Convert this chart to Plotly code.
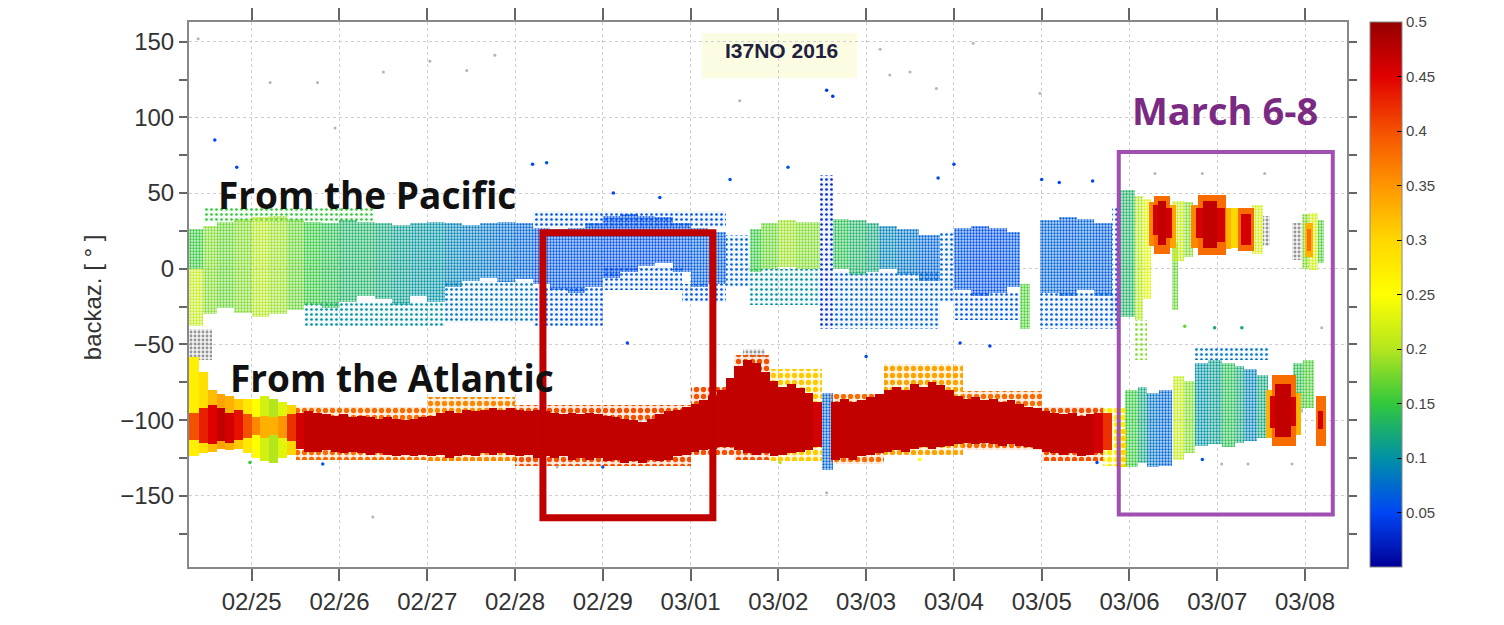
import plotly.graph_objects as go
from plotly.colors import sample_colorscale

# ---------------- data (days since 2016-02-24 00:00, back-azimuth in deg, value) ----------------
X_TICKS = [1, 2, 3, 4, 5, 6, 7, 8, 9, 10, 11, 12, 13]
X_TEXT = ["02/25", "02/26", "02/27", "02/28", "02/29", "03/01", "03/02",
          "03/03", "03/04", "03/05", "03/06", "03/07", "03/08"]
Y_TICKS = [-150, -100, -50, 0, 50, 100, 150]
Y_TEXT = ["\u2212150", "\u2212100", "\u221250", "0", "50", "100", "150"]
Y_MINOR = [-175, -125, -75, -25, 25, 75, 125]
CB_TICKS = [0.05, 0.1, 0.15, 0.2, 0.25, 0.3, 0.35, 0.4, 0.45, 0.5]
CB_TEXT = ["0.05", "0.1", "0.15", "0.2", "0.25", "0.3", "0.35", "0.4", "0.45", "0.5"]

# Atlantic band: dense core segments (t0, t1, low baz, high baz, value)
ATL_CORE = [
    (0.29, 0.4, -113, -95, 0.40), (0.4, 0.5, -115, -92, 0.43), (0.5, 0.6, -116, -90, 0.45),
    (0.6, 0.7, -114, -92, 0.47), (0.7, 0.8, -115, -95, 0.46), (0.8, 0.9, -113, -93, 0.44),
    (0.9, 1.0, -112, -96, 0.40), (1.0, 1.1, -110, -98, 0.36), (1.1, 1.2, -112, -97, 0.33),
    (1.2, 1.3, -110, -98, 0.33), (1.3, 1.4, -112, -97, 0.35), (1.4, 1.5, -114, -96, 0.42),
    (1.5, 1.6, -119, -95, 0.46), (1.6, 1.7, -121, -94, 0.47), (1.7, 1.8, -121, -95, 0.47),
    (1.8, 1.9, -120, -96, 0.47), (1.9, 2.0, -121, -97, 0.47), (2.0, 2.1, -122, -96, 0.47),
    (2.1, 2.2, -121, -98, 0.47), (2.2, 2.3, -122, -97, 0.47), (2.3, 2.4, -123, -98, 0.47),
    (2.4, 2.5, -122, -99, 0.47), (2.5, 2.6, -123, -98, 0.47), (2.6, 2.7, -124, -99, 0.47),
    (2.7, 2.8, -123, -100, 0.47), (2.8, 2.9, -124, -99, 0.47), (2.9, 3.0, -123, -98, 0.47),
    (3.0, 3.1, -124, -97, 0.47), (3.1, 3.2, -123, -95, 0.47), (3.2, 3.3, -125, -94, 0.47),
    (3.3, 3.4, -124, -95, 0.47), (3.4, 3.5, -123, -93, 0.47), (3.5, 3.6, -124, -94, 0.47),
    (3.6, 3.7, -122, -93, 0.47), (3.7, 3.8, -123, -92, 0.47), (3.8, 3.9, -122, -93, 0.47),
    (3.9, 4.0, -123, -92, 0.47), (4.0, 4.1, -124, -93, 0.47), (4.1, 4.2, -123, -94, 0.47),
    (4.2, 4.3, -125, -93, 0.47), (4.3, 4.4, -124, -94, 0.47), (4.4, 4.5, -125, -95, 0.47),
    (4.5, 4.6, -124, -96, 0.47), (4.6, 4.7, -126, -95, 0.47), (4.7, 4.8, -125, -96, 0.47),
    (4.8, 4.9, -126, -95, 0.47), (4.9, 5.0, -125, -96, 0.47), (5.0, 5.1, -127, -97, 0.47),
    (5.1, 5.2, -126, -98, 0.47), (5.2, 5.3, -128, -99, 0.47), (5.3, 5.4, -127, -100, 0.47),
    (5.4, 5.5, -128, -101, 0.47), (5.5, 5.6, -126, -99, 0.47), (5.6, 5.7, -127, -96, 0.47),
    (5.7, 5.8, -126, -94, 0.47), (5.8, 5.9, -124, -93, 0.47), (5.9, 6.0, -123, -91, 0.47),
    (6.0, 6.1, -121, -89, 0.47), (6.1, 6.2, -120, -87, 0.47), (6.2, 6.3, -119, -84, 0.47),
    (6.3, 6.4, -118, -80, 0.47), (6.4, 6.5, -118, -72, 0.47), (6.5, 6.6, -120, -64, 0.47),
    (6.6, 6.7, -122, -60, 0.47), (6.7, 6.8, -123, -62, 0.47), (6.8, 6.9, -122, -68, 0.47),
    (6.9, 7.0, -124, -74, 0.47), (7.0, 7.1, -123, -78, 0.47), (7.1, 7.2, -122, -76, 0.47),
    (7.2, 7.3, -121, -79, 0.47), (7.3, 7.4, -120, -82, 0.47), (7.4, 7.5, -118, -88, 0.46),
    (7.6, 7.7, -126, -88, 0.47), (7.7, 7.8, -125, -86, 0.47), (7.8, 7.9, -126, -88, 0.47),
    (7.9, 8.0, -124, -87, 0.47), (8.0, 8.1, -123, -85, 0.47), (8.1, 8.2, -122, -83, 0.47),
    (8.2, 8.3, -121, -80, 0.47), (8.3, 8.4, -120, -78, 0.47), (8.4, 8.5, -121, -80, 0.47),
    (8.5, 8.6, -119, -76, 0.47), (8.6, 8.7, -118, -78, 0.47), (8.7, 8.8, -119, -75, 0.47),
    (8.8, 8.9, -118, -77, 0.47), (8.9, 9.0, -117, -80, 0.47), (9.0, 9.1, -116, -84, 0.47),
    (9.1, 9.2, -115, -86, 0.47), (9.2, 9.3, -116, -85, 0.47), (9.3, 9.4, -115, -87, 0.47),
    (9.4, 9.5, -116, -86, 0.47), (9.5, 9.6, -117, -88, 0.47), (9.6, 9.7, -116, -87, 0.47),
    (9.7, 9.8, -117, -89, 0.47), (9.8, 9.9, -118, -91, 0.47), (9.9, 10.0, -119, -92, 0.47),
    (10.0, 10.1, -121, -94, 0.47), (10.1, 10.2, -122, -95, 0.47), (10.2, 10.3, -123, -96, 0.47),
    (10.3, 10.4, -122, -95, 0.47), (10.4, 10.5, -124, -97, 0.47), (10.5, 10.6, -123, -96, 0.47),
    (10.6, 10.7, -122, -95, 0.46), (10.7, 10.8, -120, -95, 0.42),
]

# Atlantic band, 24-26 Feb: mixed yellow / orange detections around the core
ATL_WEST = [
    (0.29, 0.4, -124, -58, 0.27), (0.4, 0.5, -122, -68, 0.29), (0.5, 0.6, -121, -80, 0.32),
    (0.6, 0.7, -119, -83, 0.34), (0.7, 0.8, -120, -84, 0.33), (0.8, 0.9, -119, -86, 0.31),
    (0.9, 1.0, -122, -86, 0.28), (1.0, 1.1, -125, -86, 0.25), (1.1, 1.2, -127, -84, 0.22),
    (1.2, 1.3, -128, -86, 0.20), (1.3, 1.4, -125, -88, 0.23), (1.4, 1.5, -123, -90, 0.30),
]

# Atlantic band: scattered lighter detections around the core
ATL_FRINGE = [
    (1.5, 3.0, -126, -91, 0.38), (3.0, 4.0, -127, -85, 0.36), (4.0, 6.0, -130, -90, 0.40),
    (6.0, 6.5, -123, -78, 0.40), (6.5, 6.9, -126, -57, 0.40), (6.9, 7.5, -127, -66, 0.31),
    (7.6, 8.2, -129, -83, 0.38), (8.2, 9.1, -123, -63, 0.34), (9.1, 10.0, -120, -81, 0.38),
    (10.0, 10.7, -127, -91, 0.40), (10.7, 10.95, -130, -92, 0.27), (10.85, 10.98, -131, -106, 0.30),
]

# Pacific band and other speckled clouds: dense parts
PAC_DENSE = [
    (0.29, 0.45, -38, 0, 0.21), (0.29, 0.45, 0, 26, 0.15), (0.45, 0.6, -30, 28, 0.18),
    (0.6, 0.8, -26, 31, 0.17), (0.8, 1.0, -29, 33, 0.18), (1.0, 1.2, -32, 34, 0.20),
    (1.2, 1.4, -30, 35, 0.19), (1.4, 1.6, -27, 33, 0.17), (1.6, 1.8, -24, 31, 0.15),
    (1.8, 2.0, -26, 30, 0.14), (2.0, 2.2, -22, 32, 0.13), (2.2, 2.4, -18, 31, 0.13),
    (2.4, 2.6, -20, 30, 0.12), (2.6, 2.8, -24, 29, 0.11), (2.8, 3.0, -18, 30, 0.105),
    (3.0, 3.2, -22, 31, 0.10), (3.2, 3.4, -12, 30, 0.09), (3.4, 3.6, -8, 29, 0.085),
    (3.6, 3.8, -6, 30, 0.08), (3.8, 4.0, -9, 31, 0.075), (4.0, 4.2, -7, 30, 0.07),
    (4.2, 4.4, -10, 27, 0.06), (4.4, 4.6, -14, 26, 0.06), (4.6, 4.8, -16, 27, 0.06),
    (4.8, 5.0, -12, 30, 0.06), (5.0, 5.2, -6, 35, 0.055), (5.2, 5.4, -2, 36, 0.055),
    (5.4, 5.6, 2, 35, 0.055), (5.6, 5.8, 4, 34, 0.055), (5.8, 6.0, -2, 30, 0.06),
    (6.0, 6.2, -12, 27, 0.065), (6.2, 6.4, -10, 24, 0.065), (6.68, 6.8, -2, 26, 0.15),
    (6.8, 7.0, 0, 30, 0.17), (7.0, 7.2, 1, 32, 0.19), (7.2, 7.47, 0, 31, 0.18),
    (7.62, 7.8, 0, 33, 0.14), (7.8, 8.0, -4, 32, 0.13), (8.0, 8.15, -2, 30, 0.12),
    (8.15, 8.35, 0, 28, 0.09), (8.35, 8.6, -4, 26, 0.08), (8.6, 8.84, -8, 22, 0.07),
    (9.0, 9.2, -14, 27, 0.06), (9.2, 9.4, -18, 28, 0.055), (9.4, 9.6, -16, 27, 0.055),
    (9.6, 9.75, -12, 24, 0.06), (9.98, 10.2, -16, 32, 0.07), (10.2, 10.4, -18, 34, 0.065),
    (10.4, 10.6, -14, 33, 0.07), (10.6, 10.8, -18, 30, 0.065), (9.75, 9.87, -40, -10, 0.16),
    # 7.5 Mar 2: narrow column across both bands
    (7.5, 7.62, -133, -82, 0.07),
    # March 6-8, Pacific side
    (10.87, 11.06, -32, 52, 0.13), (11.06, 11.15, -34, 48, 0.20), (11.15, 11.25, -20, 46, 0.23),
    (11.48, 11.55, -27, 17, 0.17), (11.48, 11.62, 5, 45, 0.21), (11.62, 11.72, 8, 44, 0.18),
    (12.4, 12.52, 10, 42, 0.22), (12.97, 13.04, 0, 36, 0.18), (13.04, 13.15, -1, 37, 0.22),
    (13.15, 13.22, 4, 32, 0.16),
    # March 6-8, Atlantic side
    (10.95, 11.1, -131, -80, 0.15), (11.1, 11.2, -128, -78, 0.12), (11.2, 11.34, -131, -82, 0.08),
    (11.34, 11.48, -130, -80, 0.07), (11.5, 11.62, -126, -71, 0.21), (11.62, 11.75, -122, -74, 0.18),
    (11.75, 11.9, -117, -62, 0.10), (11.9, 12.05, -116, -60, 0.11), (12.05, 12.2, -118, -62, 0.14),
    (12.2, 12.3, -115, -64, 0.12), (12.3, 12.45, -114, -66, 0.09), (12.45, 12.58, -112, -70, 0.12),
    (12.86, 12.98, -95, -62, 0.14), (12.98, 13.1, -92, -60, 0.16),
]

# sparse parts of the clouds
PAC_SPARSE = [
    (0.45, 2.4, 30, 40, 0.15), (1.6, 3.2, -38, -22, 0.10), (3.2, 4.2, -36, -8, 0.08),
    (4.2, 5.0, -38, -12, 0.06), (5.0, 5.9, -14, 2, 0.06), (5.9, 6.4, -22, -10, 0.06),
    (6.4, 6.68, -12, 22, 0.07), (6.68, 7.47, -24, 0, 0.10), (7.47, 7.62, -40, 62, 0.03),
    (7.62, 8.84, -40, -2, 0.07), (8.84, 9.0, -22, 24, 0.07), (9.0, 9.75, -34, -16, 0.06),
    (9.98, 10.87, -40, -16, 0.065), (10.8, 10.87, -30, 40, 0.06), (4.2, 6.4, 27, 38, 0.06),
    (11.06, 11.2, -60, -34, 0.18), (11.75, 12.58, -60, -52, 0.08),
]

# March 6-8 strong detections: fringe and core
MAR_FRINGE = [
    (11.22, 11.28, 15, 44, 0.36), (11.28, 11.46, 10, 48, 0.38), (11.46, 11.53, 14, 42, 0.34),
    (11.7, 11.78, 14, 42, 0.36), (11.78, 12.1, 9, 49, 0.38), (12.1, 12.16, 13, 40, 0.33),
    (12.16, 12.24, 14, 40, 0.30), (12.24, 12.42, 12, 40, 0.38), (13.0, 13.09, 8, 30, 0.33),
    (12.55, 12.62, -112, -80, 0.33), (12.62, 12.9, -117, -70, 0.38), (12.9, 12.95, -110, -82, 0.33),
    (13.12, 13.24, -117, -84, 0.38),
]
MAR_CORE = [
    (11.27, 11.32, 22, 42, 0.46), (11.32, 11.42, 16, 45, 0.47), (11.42, 11.48, 20, 40, 0.46),
    (11.76, 11.84, 20, 40, 0.46), (11.84, 12.0, 14, 45, 0.47), (12.0, 12.09, 18, 40, 0.46),
    (12.27, 12.39, 16, 36, 0.46), (13.02, 13.07, 12, 26, 0.38),
    (12.6, 12.66, -105, -84, 0.46), (12.66, 12.84, -111, -76, 0.47), (12.84, 12.9, -104, -85, 0.46),
    (13.15, 13.21, -106, -94, 0.46),
]

# detections without value (grey)
GREY_CLOUDS = [
    (0.29, 0.55, -60, -40), (6.6, 6.85, -58, -53), (12.52, 12.6, 15, 35), (12.85, 12.97, 6, 30),
]

# isolated detections (None = no value, drawn grey)
DOT_T = [0.39, 3.03, 3.77, 1.21, 1.75, 1.95, 3.45, 2.5, 0.58, 0.83, 4.2, 4.36, 5.12, 5.65,
         8.16, 8.5, 8.8, 6.56, 7.55, 7.62, 9.0, 9.98, 10.0, 10.2, 10.58, 7.11, 6.45, 8.82,
         8.27, 9.22, 7.55, 10.63, 7.02, 8.61, 9.07, 8.0, 9.41, 4.48, 5.28, 5.0, 2.38, 1.81,
         0.98, 11.29, 11.83, 12.54, 11.97, 12.28, 13.19, 12.05, 12.35, 12.85, 11.83, 11.63]
DOT_BAZ = [152, 137, 141, 123, 123, 93, 131, 130, 85, 67, 69, 70, 50, 47,
           145, 130, 119, 111, 118, 114, 69, 116, 59, 57, 58, 67, 59, 60,
           128, 149, -148, -128, -128, -126, -49, -58, -51, -131, -49, -131, -164, -129,
           -128, 63, 63, 63, -39, -39, -39, -129, -129, -129, -126, -38]
DOT_V = [None, None, None, None, None, None, None, None, 0.05, 0.05, 0.05, 0.06, 0.05, 0.05,
         None, None, None, None, 0.04, 0.04, 0.05, None, 0.05, 0.05, 0.05, 0.06, 0.06, 0.05,
         None, None, None, 0.05, 0.2, 0.25, 0.05, 0.06, 0.05, None, 0.05, 0.06, None, 0.06,
         0.15, None, None, None, 0.12, 0.12, None, None, None, None, 0.06, 0.17]

# ---------------- styling ----------------
COLORSCALE = [
    [0.0, "rgb(0,0,150)"], [0.1, "rgb(0,70,245)"], [0.2, "rgb(0,145,165)"],
    [0.3, "rgb(50,200,60)"], [0.4, "rgb(180,230,30)"], [0.5, "rgb(255,255,0)"],
    [0.6, "rgb(255,215,0)"], [0.7, "rgb(255,150,0)"], [0.8, "rgb(245,80,0)"],
    [0.9, "rgb(225,0,0)"], [1.0, "rgb(150,0,0)"],
]
CMIN, CMAX = 0.0, 0.5
FONT = "Liberation Sans, Arial, sans-serif"


def seg_geometry(segs):
    x = [(s[0] + s[1]) / 2 for s in segs]
    w = [s[1] - s[0] for s in segs]
    base = [s[2] for s in segs]
    h = [s[3] - s[2] for s in segs]
    return x, w, base, h


def seg_colors(segs):
    return sample_colorscale(COLORSCALE, [min(max((s[4] - CMIN) / (CMAX - CMIN), 0), 1) for s in segs])


def with_alpha(rgb, a):
    return rgb.replace("rgb(", "rgba(").replace(")", ",%.2f)" % a)


def solid_bars(segs):
    x, w, base, h = seg_geometry(segs)
    return go.Bar(x=x, y=h, base=base, width=w,
                  marker=dict(color=[s[4] for s in segs], coloraxis="coloraxis",
                              line=dict(width=0)),
                  hoverinfo="skip", showlegend=False)


def speckle_bars(segs, size, solidity, fill_alpha, colors=None):
    x, w, base, h = seg_geometry(segs)
    if colors is None:
        colors = seg_colors(segs)
    return go.Bar(x=x, y=h, base=base, width=w,
                  marker=dict(color="rgba(0,0,0,0)", line=dict(width=0),
                              pattern=dict(shape=".", fgcolor=colors,
                                           bgcolor=[with_alpha(c, fill_alpha) for c in colors],
                                           fgopacity=1, size=size, solidity=solidity,
                                           fillmode="replace")),
                  hoverinfo="skip", showlegend=False)


fig = go.Figure()
fig.add_trace(speckle_bars(PAC_SPARSE, 5, 0.22, 0.05))
fig.add_trace(speckle_bars(PAC_DENSE, 3, 0.45, 0.26))
fig.add_trace(speckle_bars(GREY_CLOUDS, 4, 0.4, 0.1, colors=["rgb(150,150,150)"] * len(GREY_CLOUDS)))
fig.add_trace(speckle_bars(ATL_FRINGE, 7, 0.45, 0.12))
fig.add_trace(solid_bars(ATL_WEST))
fig.add_trace(solid_bars(ATL_CORE))
fig.add_trace(solid_bars(MAR_FRINGE))
fig.add_trace(solid_bars(MAR_CORE))

grey_t = [t for t, v in zip(DOT_T, DOT_V) if v is None]
grey_b = [b for b, v in zip(DOT_BAZ, DOT_V) if v is None]
col_t = [t for t, v in zip(DOT_T, DOT_V) if v is not None]
col_b = [b for b, v in zip(DOT_BAZ, DOT_V) if v is not None]
col_v = [v for v in DOT_V if v is not None]
fig.add_trace(go.Scatter(x=grey_t, y=grey_b, mode="markers",
                         marker=dict(size=3, color="#b4b4b4"), hoverinfo="skip", showlegend=False))
fig.add_trace(go.Scatter(x=col_t, y=col_b, mode="markers",
                         marker=dict(size=3.5, color=col_v, coloraxis="coloraxis"),
                         hoverinfo="skip", showlegend=False))

axis_common = dict(ticks="outside", tickcolor="#666", tickwidth=1.5, showline=True,
                   linecolor="#888", linewidth=2, mirror="ticks", showgrid=True,
                   gridcolor="#cfcfcf", griddash="dot", gridwidth=1, zeroline=False,
                   automargin=False, tickfont=dict(size=24, color="#333", family=FONT))

# the page adds an 8 px body margin, so the figure is 16 px smaller than the window
fig.update_layout(
    width=1488, height=609,
    margin=dict(l=181, r=149, t=14, b=50, autoexpand=False),
    paper_bgcolor="white", plot_bgcolor="white",
    barmode="overlay", bargap=0, showlegend=False,
    xaxis=dict(range=[0.286, 13.478], tickvals=X_TICKS, ticktext=X_TEXT, ticklen=12, **axis_common),
    yaxis=dict(range=[-197, 163], tickvals=Y_TICKS, ticktext=Y_TEXT, ticklen=8,
               minor=dict(tickvals=Y_MINOR, ticks="outside", ticklen=8, tickcolor="#666",
                          showgrid=False),
               **axis_common),
    coloraxis=dict(
        colorscale=COLORSCALE, cmin=CMIN, cmax=CMAX,
        colorbar=dict(x=1.0199, xanchor="left", xpad=0, ypad=0, thickness=32,
                      len=1, lenmode="fraction", y=0.5, yanchor="middle",
                      outlinewidth=1, outlinecolor="#888",
                      tickvals=CB_TICKS, ticktext=CB_TEXT, ticks="inside", ticklen=5,
                      tickcolor="black",
                      tickfont=dict(size=15, color="#444", family=FONT)),
    ),
    shapes=[
        dict(type="rect", xref="paper", yref="paper", x0=0.443, x1=0.577, y0=0.897, y1=0.980,
             fillcolor="#fcfce2", line=dict(width=0), layer="below"),
        dict(type="rect", xref="x", yref="y", x0=4.318, x1=6.254, y0=-164.4, y1=23.8,
             line=dict(color="#c00000", width=7), layer="above"),
        dict(type="rect", xref="x", yref="y", x0=10.878, x1=13.316, y0=-162.4, y1=77.2,
             line=dict(color="#a050b0", width=4), layer="above"),
    ],
    annotations=[
        dict(text="backaz. [ \u00b0 ]", xref="paper", yref="paper", x=-0.0838, y=0.495,
             xanchor="center", yanchor="middle", textangle=-90, showarrow=False,
             font=dict(size=24, color="#333", family=FONT)),
        dict(text="<b>I37NO 2016</b>", xref="paper", yref="paper", x=0.512, y=0.9486,
             xanchor="center", yanchor="middle", showarrow=False,
             font=dict(size=21, color="#202040", family=FONT)),
        dict(text="<b>From the Pacific</b>", xref="paper", yref="paper", x=0.1537, y=0.6826,
             xanchor="center", yanchor="middle", showarrow=False,
             font=dict(size=37, color="#111", family="Open Sans")),
        dict(text="<b>From the Atlantic</b>", xref="paper", yref="paper", x=0.1753, y=0.3468,
             xanchor="center", yanchor="middle", showarrow=False,
             font=dict(size=37, color="#111", family="Open Sans")),
        dict(text="<b>March 6-8</b>", xref="paper", yref="paper", x=0.8946, y=0.8385,
             xanchor="center", yanchor="middle", showarrow=False,
             font=dict(size=38, color="#7a2a82", family="Open Sans")),
    ],
)

fig.write_html("out.html")
